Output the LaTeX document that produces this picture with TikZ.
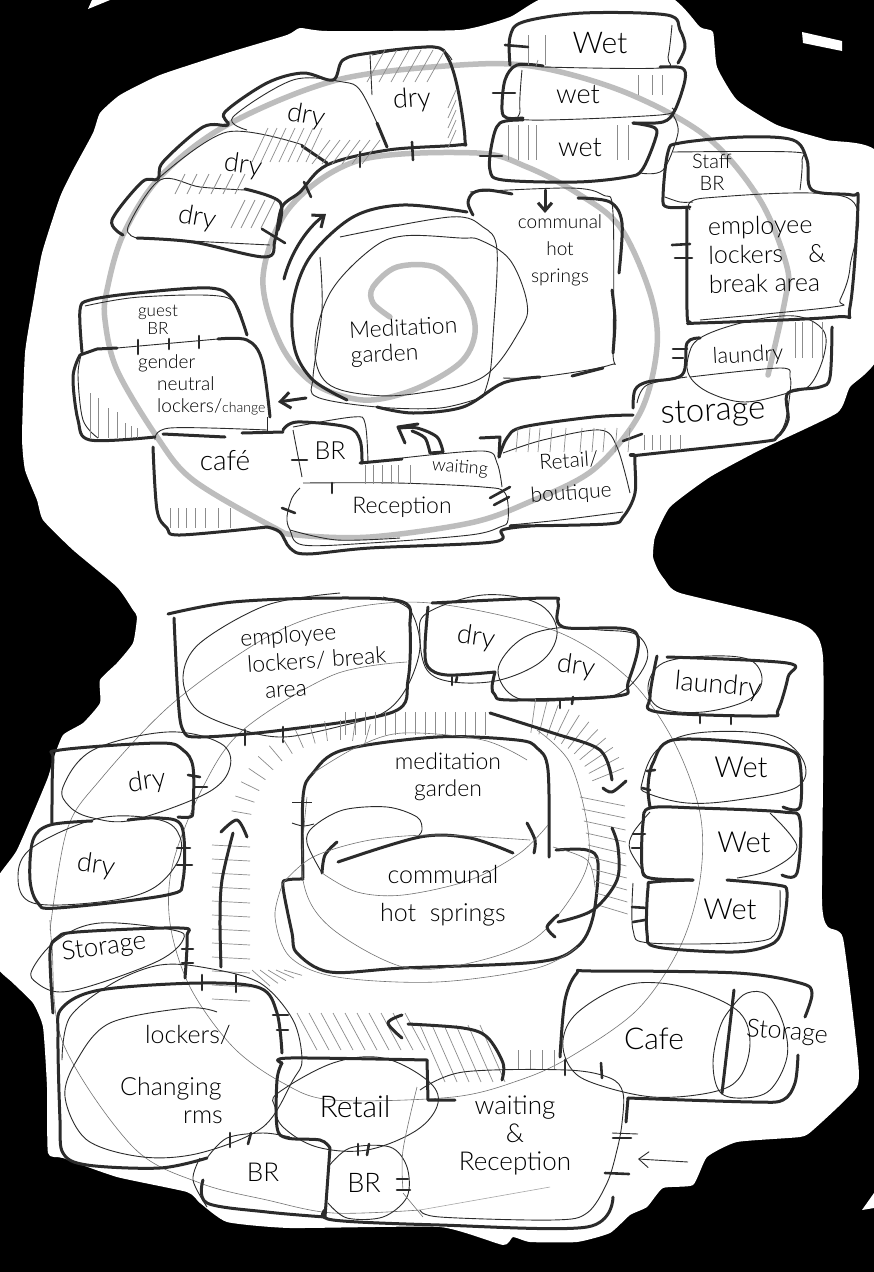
\documentclass[tikz,border=0pt]{standalone}
\usepackage{fontspec}
\setmainfont{Lato}[UprightFont=* Light]
\usetikzlibrary{arrows.meta,calc}
\definecolor{ink}{HTML}{2B2B2B}
\definecolor{swirlgray}{HTML}{BDBDBD}
\newcommand{\hand}[2]{\draw[#1] plot[smooth,tension=.55] coordinates {#2};}
\newcommand{\handc}[2]{\draw[#1] plot[smooth cycle,tension=.6] coordinates {#2};}
\begin{document}
\begin{tikzpicture}[x=1pt,y=-1pt,
 wall/.style={draw=ink,line width=3pt,line cap=round,line join=round},
 doortick/.style={draw=ink,line width=2.6pt,line cap=round},
 fine/.style={draw=ink,line width=.9pt},
 hair/.style={draw=black!55,line width=.6pt},
 shade/.style={draw=black!45,line width=.7pt},
 swirl/.style={draw=swirlgray,line width=5.5pt,line cap=round},
 lab/.style 2 args={inner sep=0pt,align=center,text=black,font=\fontsize{#1}{#2}\selectfont}]
\useasboundingbox (0,0) rectangle (874,1272);
\fill[black] (0,0) rectangle (874,1272);
% paper
\fill[white] plot[smooth cycle,tension=.3] coordinates {(73,170) (93,133) (100,113) (120,95) (160,75) (227,53) (287,35) (300,28) (327,31) (460,30)
 (510,17) (550,-4) (667,-4) (700,27) (713,32) (717,67) (737,100) (777,125) (827,140) (880,157)
 (880,350) (850,387) (837,413) (760,450) (710,477) (670,507) (655,537) (653,557) (658,570) (665,580)
 (680,593) (800,623) (823,657) (822,900) (828,927) (843,938) (857,1050) (857,1087) (813,1130) (800,1137)
 (737,1142) (707,1157) (693,1185) (663,1188) (647,1207) (630,1215) (610,1233) (577,1242) (530,1242) (513,1237)
 (503,1245) (440,1227) (290,1228) (227,1222) (200,1203) (187,1192) (117,1177) (63,1158) (48,1153) (47,1087)
 (43,1027) (33,1003) (13,983) (-6,962) (-6,885) (17,850) (47,780) (53,760) (63,735) (83,723) (100,703)
 (100,680) (117,663) (133,643) (137,617) (133,610) (117,587) (73,550) (43,520) (37,500) (25,470) (22,437)
 (25,353) (33,303) (42,253) (60,197)};
\fill[white] (88,9) -- (92,0) -- (110,0) -- cycle;
\fill[white] (802,32) -- (842,41) -- (842,51) -- (803,43) -- cycle;
\fill[white] (862,1210) -- (874,1193) -- (874,1208) -- cycle;
% upper plan: circulation spiral
\hand{swirl}{(390,317)(373,303)(373,287)(397,267)(437,268)(467,300)(475,333)(460,363)(413,390)(363,400)(313,383)(280,343)(263,277)(290,207)(360,160)(477,153)(527,167)(577,193)(620,227)(650,293)(657,347)(640,413)(593,470)(527,503)(470,523)(370,537)(297,535)(273,527)(193,480)(157,437)(117,370)(105,320)(107,290)(123,235)(160,177)(227,125)(337,80)(460,65)(537,67)(627,93)(707,137)(760,200)(787,267)(785,300)(768,375)}
% upper plan: dry rooms
\hand{wall}{(123,235)(112,220)(142,182)(158,179)(163,162)(203,127)(228,125)(225,112)(267,83)(303,73)(333,80)(343,60)(370,53)(433,47)(448,58)(458,90)(465,140)(458,145)(388,150)(327,165)(300,192)(282,207)(275,240)(265,257)(193,242)(137,238)}
\hand{fine}{(137,238)(128,227)(160,180)(200,187)(245,190)}
\hand{wall}{(245,189)(280,202)(278,230)}
\hand{fine}{(270,245)(210,242)(137,238)}
\hand{fine}{(160,177)(227,132)(303,145)}
\hand{wall}{(302,146)(327,163)}
\hand{fine}{(247,130)(233,117)(293,80)(343,82)(360,90)(377,123)}
\hand{wall}{(377,123)(387,147)}
\hand{fine}{(370,55)(372,95)}
\hand{fine}{(372,55)(433,46)(452,60)}
\foreach \x in {385,397,...,445} \draw[shade] (\x,50) -- ++(-18,32);
\foreach \y in {90,100,...,130} \draw[shade] (456,\y) -- ++(-8,18);
\foreach \x in {330,340,...,380} \draw[shade] (\x,140) -- ++(-18,24);
\foreach \x in {268,277,...,322} \draw[shade] (\x,128) -- ++(-16,34);
\foreach \x in {185,197,...,245} \draw[shade] (\x,174) -- ++(-10,20);
\foreach \x in {245,255,...,275} \draw[shade] (\x,200) -- ++(-14,28);
\draw[doortick] (262,229) -- (285,243);
\draw[doortick] (304,182) -- (311,197);
\draw[doortick] (360,152) -- (360,167);
\draw[doortick] (412,142) -- (413,160);
\draw[wall,-{Straight Barb[length=10pt,width=16pt]}] (284,279) .. controls (290,255) and (305,230) .. (326,214);
% upper plan: wet rooms
\hand{wall}{(510,65)(510,37)(523,22)(583,13)(667,15)(680,30)(685,47)(678,63)}
\hand{fine}{(672,25)(668,57)(660,68)(543,67)}
\hand{wall}{(660,67)(682,68)(685,80)(675,110)(663,122)(633,123)}
\hand{wall}{(543,66)(517,65)(505,80)(502,110)(507,118)(523,118)}
\hand{fine}{(522,70)(520,110)(530,120)(660,115)(672,108)}
\hand{wall}{(523,120)(500,123)(492,143)(490,170)(503,180)(577,182)(627,177)(642,170)(655,140)(655,128)(633,123)}
\hand{fine}{(673,115)(678,133)(663,170)(640,173)}
\foreach \x in {528,545} \draw[shade] (\x,35) -- (\x,65);
\draw[shade] (538,60) -- (536,66);
\foreach \x in {638,652,662} \draw[shade] (\x,75) -- (\x,95);
\foreach \x in {508,518,528,536,617,628} \draw[shade] (\x,125) -- (\x,160);
\draw[doortick] (505,45) -- (528,47);
\draw[doortick] (493,93) -- (515,93);
\draw[doortick] (480,156) -- (502,156);
% upper plan: staff rooms
\hand{wall}{(690,207)(667,207)(663,197)(668,152)(680,143)(743,137)(793,140)(807,160)(812,190)(852,195)(858,203)(850,307)(835,317)(700,323)(690,322)(687,310)(687,207)}
\hand{fine}{(690,210)(705,198)(848,198)(850,267)(840,300)(833,307)(700,320)}
\hand{fine}{(673,152)(793,152)(802,160)(800,190)}
\hand{fine}{(665,197)(680,202)(693,202)}
\draw[doortick] (672,245) -- (690,244);
\draw[doortick] (675,258) -- (692,258);
% upper plan: laundry and storage
\hand{wall}{(700,338)(687,343)(682,375)(647,382)(635,390)(633,408)}
\hand{wall}{(832,327)(830,377)(820,387)(788,393)(788,420)(777,437)(760,442)(640,455)(635,457)(635,493)(623,517)(607,524)(510,526)}
\handc{fine}{(700,338)(745,322)(795,316)(823,330)(824,355)(810,385)(788,393)(745,402)(710,393)(690,377)(688,358)}
\hand{fine}{(690,377)(780,368)(790,377)(790,393)(785,423)(777,437)}
\hand{fine}{(637,403)(647,385)(687,377)}
\foreach \x in {795,802,812,822} \draw[shade] (\x,322) -- (\x,358);
\foreach \x in {644,652,660,670,680} \draw[shade] (\x,435) -- (\x,450);
\draw[doortick] (673,349) -- (687,349);
\draw[doortick] (673,358) -- (683,358);
\draw[doortick] (623,441) -- (642,434);
% upper plan: retail and waiting
\hand{wall}{(633,415)(593,417)(523,427)(507,438)(499,457)}
\draw[wall] (480,438) -- (500,437) -- (499,457);
\hand{fine}{(503,453)(543,440)(600,430)(617,447)(630,493)}
\hand{fine}{(510,525)(560,520)(623,512)}
\foreach \x in {518,530,540,552,566,582,594,605,617,630} \draw[shade] (\x,428) -- (\x-2,452);
\draw[doortick] (490,498) -- (510,487);
\draw[doortick] (494,505) -- (509,497);
% upper plan: reception, BR, cafe
\hand{wall}{(267,527)(280,532)(290,548)(307,554)(370,548)(493,542)(502,530)(530,526)}
\hand{fine}{(300,488)(292,498)(287,517)(290,530)(303,545)(370,543)(470,535)(500,527)(508,520)(505,493)(483,487)(397,483)(303,483)}
\hand{fine}{(290,530)(337,540)(400,538)}
\draw[doortick] (332,483) -- (332,493);
\draw[doortick] (282,508) -- (295,513);
\hand{fine}{(402,458)(483,451)(497,463)(502,487)}
\draw[wall] (360,463) -- (402,459);
\foreach \x in {365,373,382,391,398,410} \draw[shade] (\x,465) -- (\x,484);
\hand{wall}{(283,430)(297,422)(347,427)(360,440)(362,463)}
\hand{fine}{(293,427)(353,417)(365,423)(368,463)}
\draw[fine] (293,430) -- (302,477);
\draw[doortick] (292,460) -- (307,460);
\hand{wall}{(153,447)(157,510)(167,528)(180,535)(267,527)}
\draw[wall] (163,434) -- (225,437);
\draw[wall] (242,433) -- (283,432);
\hand{fine}{(155,440)(170,428)(267,430)}
\foreach \x in {170,178,186,195,205,218,230} \draw[shade] (\x,508) -- (\x,528);
% upper plan: lockers and guest BR
\hand{wall}{(80,355)(73,377)(78,420)(90,440)(155,437)}
\draw[wall] (80,355) -- (97,349) -- (117,348);
\hand{wall}{(218,339)(247,340)(262,360)(270,417)}
\hand{fine}{(82,352)(78,375)(83,420)(98,438)}
\draw[fine] (267,417) -- (267,432);
\hand{wall}{(82,352)(80,310)(90,300)(137,293)(210,288)(233,300)(247,335)}
\hand{fine}{(85,306)(140,297)(225,297)(243,322)}
\draw[fine] (117,348) -- (218,339);
\foreach \x/\y in {90/393,98/398,108/408,117/412,125/423,131/426,137/428} \draw[shade] (\x,\y) -- (\x,438);
\draw[doortick] (138,340) -- (138,354);
\draw[doortick] (169,339) -- (169,349);
\draw[doortick] (199,336) -- (199,348);
\draw[wall,-{Straight Barb[length=10pt,width=16pt]}] (306,398) -- (278,402);
% upper plan: garden and hot springs
\hand{wall}{(467,212)(403,205)(353,217)(310,257)(293,303)(295,350)(313,380)(347,400)}
\hand{wall}{(377,407)(413,413)(463,407)(503,383)(540,377)}
\draw[wall] (572,376) -- (603,368);
\hand{wall}{(473,215)(468,203)(473,193)(487,190)(512,194)}
\hand{wall}{(578,198)(610,202)(622,223)(619,273)}
\hand{wall}{(612,290)(615,320)(613,353)}
\hand{fine}{(340,237)(450,217)(483,227)(497,250)(493,337)(490,373)(483,397)}
\hand{fine}{(320,257)(322,310)(313,377)(317,397)(377,407)(440,408)(483,397)}
\handc{fine}{(460,238)(403,236)(370,250)(330,293)(315,347)(327,383)(370,395)(420,393)(483,377)(520,330)(527,303)(510,260)(480,240)}
\hand{fine}{(470,192)(570,188)(603,195)(613,213)(613,350)(610,365)(540,377)(503,378)}
\draw[wall,-{Straight Barb[length=8pt,width=14pt]}] (545,190) -- (545,213);
\hand{wall}{(443,452)(437,437)(417,428)(400,428)}
\hand{wall}{(430,453)(425,438)(412,431)}
\draw[wall] (430,453) -- (443,452);
\draw[wall] (418,424) -- (398,427) -- (405,443);
% lower plan: faint circulation lines
\hand{hair}{(50,930)(67,830)(100,780)(173,703)(267,637)(340,610)(430,603)(553,630)(627,677)(673,740)(700,813)(700,880)(680,947)(637,1010)(570,1057)(520,1080)(453,1097)(333,1100)(283,1083)(233,1047)(190,987)(170,923)(173,863)(203,787)(243,730)(333,675)(407,662)}
\hand{hair}{(50,920)(52,947)(63,1043)(133,1147)(200,1183)(267,1200)(333,1213)(420,1210)}
\draw[black!35,line width=.6pt] (420,1210) -- (550,1187);
% lower plan: employee and dry rooms
\hand{wall}{(168,614)(233,602)(333,598)(403,602)(410,627)(408,680)(393,712)(283,730)(200,737)(183,730)(178,697)(174,618)}
\hand{fine}{(340,593)(267,605)(200,643)(183,677)(197,710)(243,730)(283,737)(333,728)(383,713)(407,687)(420,647)(410,610)(383,597)}
\draw[doortick] (245,730) -- (245,745);
\draw[doortick] (283,727) -- (283,742);
\hand{wall}{(52,823)(53,760)(60,750)(160,743)(183,750)(193,767)(193,810)(190,817)(178,817)}
\handc{fine}{(63,787)(93,750)(167,732)(220,743)(230,767)(207,793)(133,820)(93,818)(70,807)}
\draw[doortick] (188,775) -- (200,777);
\draw[doortick] (195,787) -- (207,787);
\hand{wall}{(92,821)(50,825)(33,840)(30,880)(38,903)(57,908)(167,895)(183,880)(182,827)(160,818)(128,820)}
\handc{fine}{(18,877)(33,847)(100,818)(160,820)(180,837)(177,863)(150,890)(100,902)(33,903)}
\draw[doortick] (177,848) -- (190,848);
\draw[doortick] (177,865) -- (192,865);
\hand{wall}{(432,603)(547,598)(558,603)(563,627)(635,632)(628,683)(617,696)(510,700)(495,695)(492,687)(495,672)}
\hand{wall}{(495,672)(447,675)(428,667)(425,647)(428,607)}
\handc{fine}{(427,613)(483,595)(537,603)(557,630)(543,660)(500,680)(453,682)(427,670)(420,637)}
\handc{fine}{(498,670)(520,640)(557,628)(600,630)(637,635)(647,660)(620,693)(570,700)(517,698)}
\draw[doortick] (452,677) -- (452,685);
\draw[doortick] (457,677) -- (456,682);
\draw[doortick] (560,700) -- (560,708);
\draw[doortick] (573,697) -- (572,704);
% lower plan: laundry and wet rooms
\hand{wall}{(657,656)(650,697)(658,712)(767,716)(778,710)(788,677)(787,663)(667,657)}
\handc{fine}{(648,687)(663,663)(710,656)(750,660)(762,680)(748,700)(703,712)(660,708)}
\draw[doortick] (700,716) -- (700,723);
\draw[doortick] (731,717) -- (731,724);
\hand{wall}{(650,807)(648,787)(653,763)(673,740)(753,743)(790,750)(800,763)(800,807)(783,807)}
\handc{fine}{(642,783)(657,750)(697,733)(770,735)(803,760)(797,787)(737,800)(687,803)(647,793)}
\draw[doortick] (647,771) -- (655,770);
\draw[doortick] (642,788) -- (650,790);
\hand{wall}{(782,875)(797,873)(800,820)(783,812)(697,808)(650,808)(643,823)(642,867)(650,878)(693,880)}
\hand{fine}{(650,812)(633,833)(630,850)(647,877)}
\hand{fine}{(770,813)(797,847)(770,870)(737,878)}
\draw[doortick] (633,834) -- (645,834);
\draw[doortick] (632,848) -- (642,848);
\hand{wall}{(727,880)(777,885)(787,892)(782,930)(770,945)(733,952)(657,947)(647,933)(648,888)(653,882)(693,880)}
\hand{fine}{(633,883)(633,930)(650,943)(753,942)(777,930)(780,890)}
\draw[doortick] (632,907) -- (647,908);
\draw[doortick] (633,922) -- (645,920);
% lower plan: garden and hot springs
\hand{wall}{(303,878)(303,797)(313,773)(343,750)(437,737)(517,740)(537,748)(548,770)(549,857)}
\hand{wall}{(556,850)(587,850)(598,863)(593,917)(577,947)(537,962)(403,968)(330,972)(297,953)(292,933)(283,887)(287,880)(303,879)}
\hand{wall}{(338,862)(420,837)(470,838)(513,853)}
\hand{wall}{(322,873)(325,855)(337,842)}
\hand{wall}{(527,823)(535,840)(534,853)}
\hand{fine}{(322,873)(307,843)(313,827)(343,810)(387,807)(417,817)(422,830)(417,837)}
\hand{hair}{(322,873)(357,892)(403,895)(470,880)(520,853)(548,825)}
\hand{hair}{(283,883)(313,857)(370,840)(437,835)(530,840)}
\hand{hair}{(307,797)(303,880)(330,927)(403,967)(470,963)(537,937)(583,877)(588,830)(570,763)(537,730)}
\hand{hair}{(313,773)(357,747)(403,733)(483,740)(527,760)}
\hand{hair}{(283,883)(275,917)(290,957)(337,977)(437,982)(537,968)(577,947)}
\hand{hair}{(553,847)(587,860)(595,887)}
\draw[fine] (292,802) -- (312,802);
\hand{fine}{(292,823)(303,826)(314,824)}
% lower plan: shaded corridor
\foreach \a in {190,198,...,286} \draw[shade] ($(340,830)+(\a:90)$) -- ($(340,830)+(\a:110)$);
\foreach \x in {345,355,...,490} \draw[shade] (\x,712) -- (\x,735);
\foreach \a in {-82,-76,...,-22} \draw[shade] ($(520,810)+(\a:78)$) -- ($(520,810)+(\a:112)$);
\foreach \y in {797,809,...,910} \draw[shade] (580+\y/6-133,\y) -- (625+\y/40-20,\y+9);
\foreach \y in {845,859,...,1000} \draw[shade] (212,\y) -- (250,\y+2);
\foreach \x in {252,260,...,284} \draw[shade] (\x,970) -- (\x+18,-\x/3+1070);
\foreach \x in {297,309,...,405} \draw[shade] (\x,1013) -- (\x+20,1050);
\foreach \x in {420,432,...,490} \draw[shade] (\x,1025) -- (\x+25,1082);
\foreach \x in {518,530,...,557} \draw[shade] (\x,1050) -- (\x,1070);
% lower plan: thick arrows
\hand{wall}{(221,967)(220,920)(222,880)(233,833)}
\hand{wall}{(221,832)(237,820)(247,837)}
\hand{wall}{(490,713)(553,733)(600,750)(612,780)}
\hand{wall}{(603,788)(612,792)(626,781)}
\hand{wall}{(558,922)(593,910)(617,880)(618,847)(612,828)}
\hand{wall}{(558,915)(547,927)(555,937)}
\hand{wall}{(502,1080)(503,1063)(487,1037)(463,1028)(408,1024)}
\hand{wall}{(402,1015)(388,1023)(402,1038)}
% lower plan: storage, lockers, retail, BR
\hand{wall}{(53,1013)(50,953)(57,938)(77,932)(180,928)(187,937)(185,978)}
\handc{fine}{(32,970)(57,940)(100,923)(173,930)(183,940)(160,960)(100,983)(60,992)(37,983)}
\draw[doortick] (182,949) -- (193,949);
\draw[doortick] (182,963) -- (193,963);
\hand{wall}{(207,1158)(160,1168)(87,1165)(63,1153)(60,1120)(58,1037)(62,1008)(100,990)(200,983)(260,988)(277,1013)(282,1053)}
\hand{fine}{(217,1012)(187,1008)(110,1023)(77,1060)(65,1097)(87,1140)(143,1157)(200,1153)(263,1127)(293,1080)(302,1060)(293,1020)(260,983)(207,968)(160,965)(113,983)(70,1017)(62,1060)}
\draw[doortick] (202,975) -- (202,990);
\draw[doortick] (236,975) -- (236,992);
\draw[doortick] (273,1015) -- (288,1015);
\draw[doortick] (277,1030) -- (288,1030);
\draw[doortick] (230,1133) -- (230,1147);
\draw[doortick] (251,1133) -- (248,1144);
\hand{wall}{(282,1063)(290,1058)(427,1060)}
\draw[wall] (427,1060) -- (428,1100) -- (455,1100);
\hand{wall}{(282,1063)(277,1080)(277,1127)(287,1138)(320,1140)(330,1148)}
\draw[wall] (330,1148) -- (325,1217);
\handc{fine}{(278,1093)(333,1063)(383,1058)(427,1080)(438,1103)(417,1130)(367,1150)(317,1147)(283,1127)(275,1107)}
\hand{wall}{(203,1180)(207,1203)(267,1212)(325,1217)}
\hand{fine}{(207,1158)(227,1138)(263,1133)(290,1137)}
\hand{fine}{(200,1158)(193,1180)(207,1207)}
\hand{fine}{(328,1167)(350,1148)(390,1147)(407,1167)(407,1197)(383,1217)(347,1218)(328,1203)}
\hand{wall}{(325,1210)(333,1220)(440,1225)(587,1227)(613,1197)}
\hand{hair}{(417,1087)(403,1150)(403,1190)}
\hand{hair}{(403,1193)(423,1217)}
\draw[doortick] (358,1144) -- (358,1155);
\draw[doortick] (369,1144) -- (367,1155);
\draw[doortick] (397,1179) -- (408,1179);
\draw[doortick] (397,1190) -- (410,1190);
% lower plan: waiting and cafe
\hand{fine}{(420,1090)(463,1072)(567,1070)(610,1078)(623,1093)(622,1123)(617,1150)(607,1183)(587,1213)(553,1220)(440,1217)(420,1210)}
\hand{wall}{(560,1057)(565,1000)(577,973)(593,971)(737,973)(800,983)(812,993)(805,1017)}
\hand{wall}{(798,1055)(795,1083)(783,1100)(753,1102)(628,1098)}
\draw[wall] (628,1098) -- (626,1122);
\draw[wall] (734,990) -- (722,1093);
\draw[doortick] (565,1060) -- (565,1075);
\draw[doortick] (601,1063) -- (602,1078);
\handc{fine}{(563,1040)(577,1013)(620,987)(660,983)(703,993)(740,1013)(750,1043)(740,1077)(713,1092)(653,1097)(593,1083)(570,1067)}
\handc{fine}{(732,1007)(747,993)(767,995)(783,1023)(787,1057)(770,1090)(743,1098)(720,1092)(713,1063)(720,1027)}
\draw[fine] (612,1133) -- (638,1134);
\draw[doortick] (613,1138) -- (631,1138);
\draw[doortick] (605,1173) -- (629,1174);
\draw[fine,-{Straight Barb[length=10pt,width=16pt]}] (688,1162) -- (638,1159);
% room names, upper plan
\node[lab={27}{30},rotate=-10] (dryone) at (197,218) {dry};
\node[lab={27}{30},rotate=-8] (drytwo) at (243,166) {dry};
\node[lab={27}{30},rotate=-10] (drythree) at (306,116) {dry};
\node[lab={27}{30},rotate=4] (dryfour) at (412,100) {dry};
\node[lab={30}{33}] (wetone) at (600,43) {Wet};
\node[lab={27}{30}] (wettwo) at (578,95) {wet};
\node[lab={27}{30}] (wetthree) at (580,148) {wet};
\node[lab={20}{22}] (staffbr) at (712,172) {Staff\\BR};
\node[lab={25}{29},rotate=1,align=left] (emptop) at (767,254) {employee\\lockers\quad\&\\break area};
\node[lab={22}{25},rotate=3] (laundrytop) at (748,356) {laundry};
\node[lab={33}{36},rotate=3] (storagetop) at (713,413) {storage};
\node[lab={21}{32},rotate=4] (retailtop) at (570,478) {Retail/\\boutique};
\node[lab={18}{21},rotate=-5] (waitingtop) at (460,468) {waiting};
\node[lab={23}{26}] (receptiontop) at (402,507) {Reception};
\node[lab={25}{28}] (brtop) at (330,451) {BR};
\node[lab={28}{31}] (cafetop) at (225,461) {café};
\node[lab={19}{22},align=left,anchor=west] (gendertop) at (138,385) {gender\\\hspace*{19pt}neutral\\\hspace*{19pt}lockers/\fontsize{14}{14}\selectfont change};
\node[lab={17}{18}] (guesttop) at (158,320) {guest\\BR};
\node[lab={23}{25},rotate=3,align=left] (gardentop) at (404,342) {Meditation\\garden};
\node[lab={19}{27}] (springstop) at (560,250) {communal\\hot\\springs};
% room names, lower plan
\node[lab={23}{27},rotate=4,align=left,anchor=west] (emplow) at (242,665) {employee\\\hspace*{5pt}lockers/ break\\\hspace*{21pt}area};
\node[lab={27}{30},rotate=-8] (drylowa) at (476,638) {dry};
\node[lab={27}{30},rotate=-8] (drylowb) at (576,667) {dry};
\node[lab={27}{30},rotate=-5] (laundrylow) at (718,686) {laundry};
\node[lab={29}{32}] (wetlowa) at (741,767) {Wet};
\node[lab={29}{32}] (wetlowb) at (744,842) {Wet};
\node[lab={29}{32}] (wetlowc) at (730,909) {Wet};
\node[lab={27}{30},rotate=8] (drylowc) at (147,782) {dry};
\node[lab={27}{30},rotate=-8] (drylowd) at (96,866) {dry};
\node[lab={26}{29},rotate=8] (storagelow) at (104,948) {Storage};
\node[lab={23}{27}] (gardenlow) at (448,777) {meditation\\garden};
\node[lab={25}{38}] (springslow) at (443,896) {communal\\hot\ \ springs};
\node[lab={25}{28},align=left,anchor=west] (lockerslow) at (120,1074) {\hspace*{25pt}lockers/\\[24pt]Changing\\\hspace*{63pt}rms};
\node[lab={30}{33}] (retaillow) at (355,1107) {Retail};
\node[lab={26}{28}] (waitinglow) at (515,1135) {waiting\\\&\\Reception};
\node[lab={26}{29}] (brlowa) at (263,1172) {BR};
\node[lab={27}{30}] (brlowb) at (364,1183) {BR};
\node[lab={30}{33}] (cafelow) at (654,1039) {Cafe};
\node[lab={25}{28},rotate=-5] (storagerow) at (787,1033) {Storage};
\end{tikzpicture}
\end{document}
